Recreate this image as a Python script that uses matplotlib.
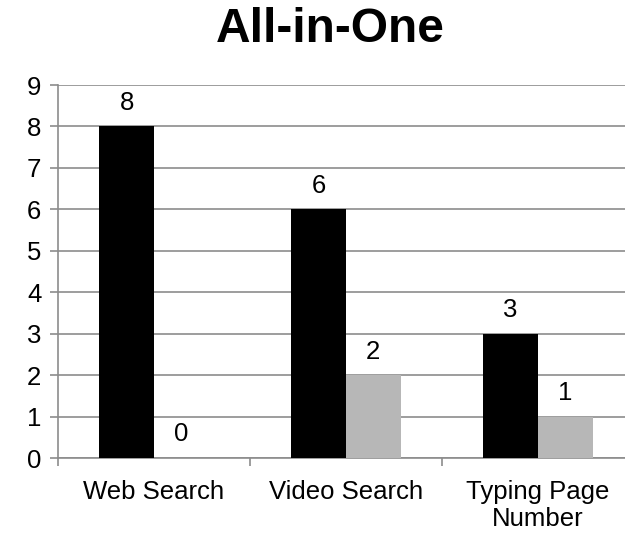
import matplotlib
matplotlib.use("Agg")
import matplotlib.pyplot as plt
import numpy as np

plt.rcParams['font.family'] = ['Liberation Sans', 'DejaVu Sans']

categories = ["Web Search", "Video Search", "Typing Page\nNumber"]
series_a = [8, 6, 3]
series_b = [0, 2, 1]
y_ticks = list(range(0, 10))

fig = plt.figure(figsize=(6.25, 5.33), dpi=100)
ax = fig.add_axes([58 / 625, 75 / 533, 576 / 625, 373 / 533])

x = np.arange(len(categories))
w = 0.285
bars_a = ax.bar(x - w / 2, series_a, w, color="#000000", zorder=3)
bars_b = ax.bar(x + w / 2, series_b, w, color="#b7b7b7", zorder=3)

for rects, vals in ((bars_a, series_a), (bars_b, series_b)):
    for r, v in zip(rects, vals):
        ax.text(r.get_x() + r.get_width() / 2, v + 0.28, str(v),
                ha="center", va="bottom", fontsize=18.5, color="black")

ax.set_xlim(-0.5, 2.5)
ax.set_ylim(0, 9)
ax.set_yticks(y_ticks)
ax.yaxis.grid(True, color="#8c8c8c", linewidth=1.2, zorder=0)
ax.set_axisbelow(True)

ax.set_xticks([-0.5, 0.5, 1.5, 2.5])
ax.set_xticklabels([])
ax.set_xticks(x, minor=True)
ax.set_xticklabels(categories, minor=True, fontsize=18.5, linespacing=1.12)
ax.tick_params(axis="x", which="minor", length=0, pad=16)
ax.tick_params(axis="x", which="major", length=6, color="#8c8c8c", width=1.2)
ax.tick_params(axis="y", length=6, color="#8c8c8c", width=1.2, labelsize=18.5, pad=6)

for s in ("top", "right"):
    ax.spines[s].set_visible(False)
for s in ("left", "bottom"):
    ax.spines[s].set_color("#8c8c8c")
    ax.spines[s].set_linewidth(1.2)

fig.text(330 / 625, 1 - 30 / 533, "All-in-One", ha="center", va="center",
         fontsize=34.5, fontweight="bold")

fig.savefig("out.png", dpi=100)
